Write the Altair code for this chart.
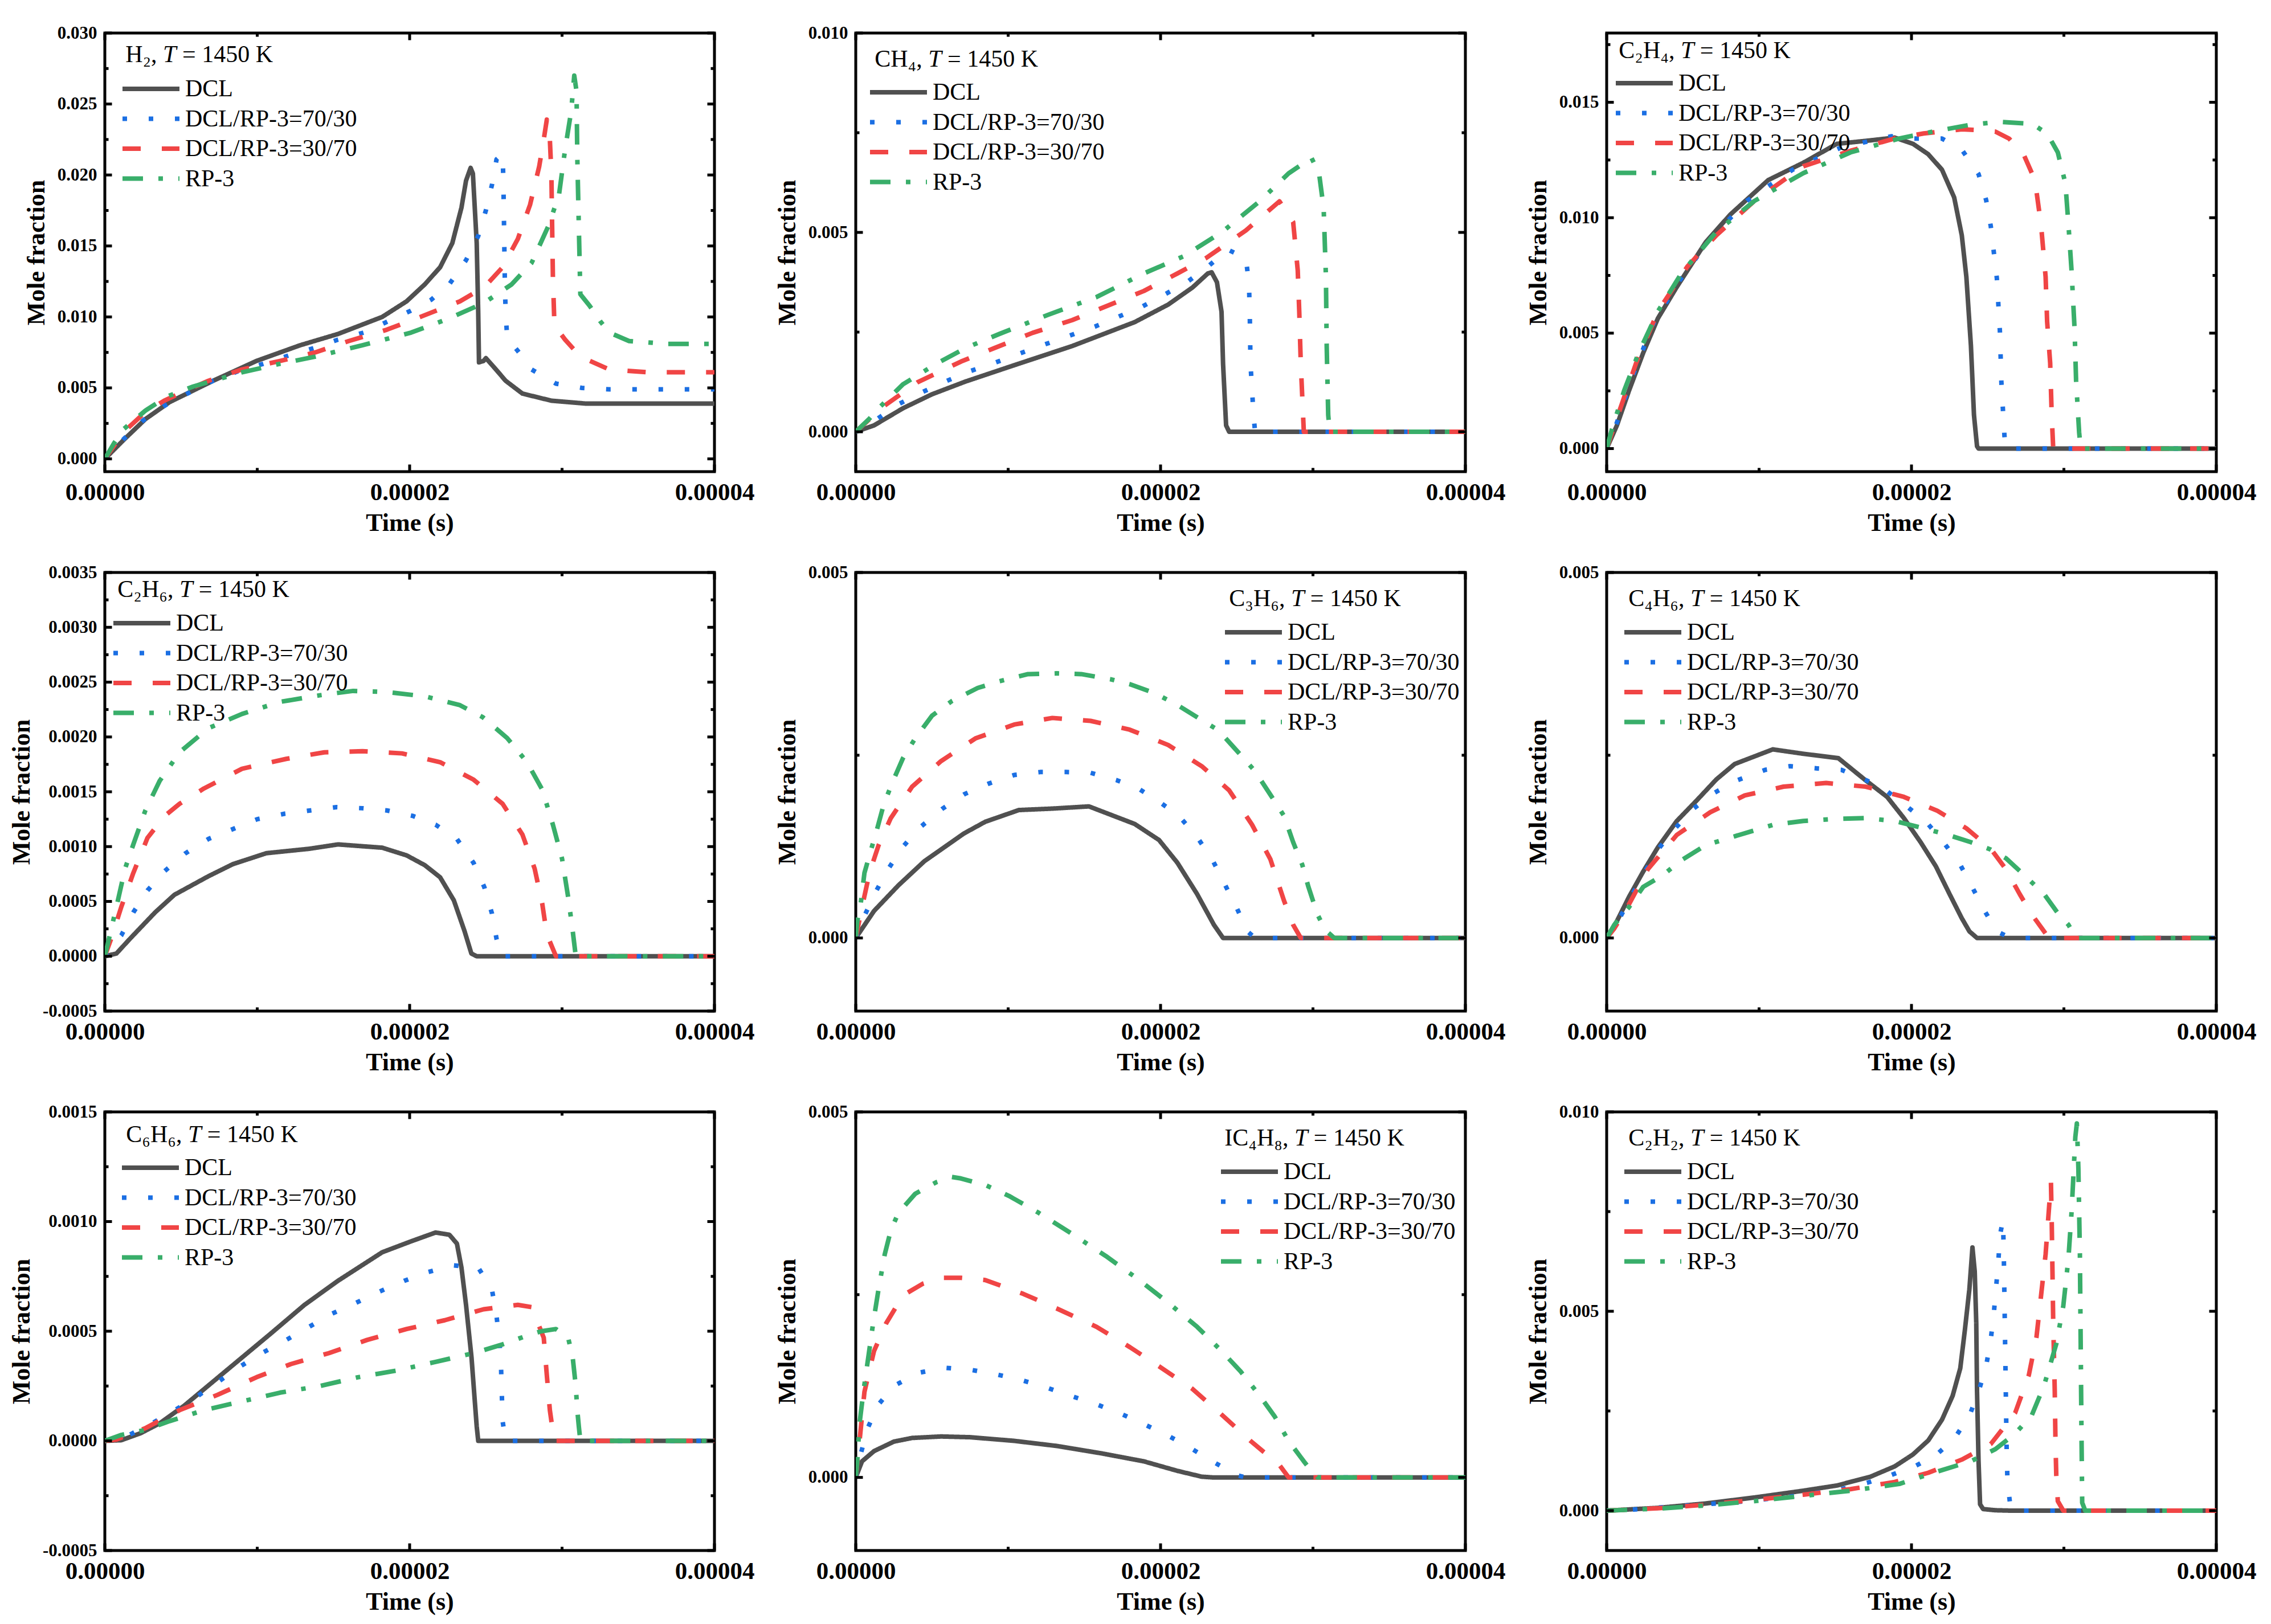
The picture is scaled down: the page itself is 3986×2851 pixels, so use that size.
import altair as alt
import pandas as pd

SERIES = ["DCL", "DCL/RP-3=70/30", "DCL/RP-3=30/70", "RP-3"]
COLORS = ["#505050", "#1b6fe3", "#f04545", "#39ae6a"]
DASHES = [[1, 0], [8, 38], [32, 37], [36, 27, 8, 27]]

X_MAJOR = [0, 0.00002, 0.00004]
X_MINOR = [0.00001, 0.00003]

# time in microseconds, mole fraction
h2_dcl = [(0,0),(1.24,0.00134),(2.66,0.0028),(4.25,0.0040),(7.1,0.0055),(9.95,0.0069),(12.8,0.0080),(15.3,0.0088),(18.2,0.0100),(19.8,0.0111),(21.0,0.0123),(22.0,0.0135),(22.8,0.0152),(23.4,0.0177),(23.7,0.0196),(24.0,0.0205),(24.15,0.0201),(24.4,0.0152),(24.5,0.0103),(24.55,0.0068),(24.85,0.0069),(25.0,0.0071),(25.5,0.0065),(26.3,0.0055),(27.4,0.0046),(29.3,0.0041),(31.5,0.0039),(40,0.0039)]
h2_b = [(0,0),(1.24,0.0014),(2.5,0.0027),(4.0,0.0038),(5.6,0.0047),(7.1,0.0055),(8.8,0.0062),(10.4,0.0067),(12.1,0.0073),(13.7,0.0078),(15.3,0.0084),(17.0,0.0089),(18.4,0.0096),(20.0,0.0104),(21.4,0.0112),(22.6,0.0123),(23.7,0.0140),(24.5,0.0157),(25.0,0.0175),(25.4,0.0193),(25.7,0.0211),(26.1,0.0215),(26.15,0.0196),(26.2,0.0159),(26.25,0.0122),(26.3,0.0103),(26.4,0.0085),(27.1,0.0076),(28.0,0.0063),(29.6,0.0053),(31.3,0.0050),(33.1,0.0049),(40,0.0049)]
h2_r = [(0,0),(1.24,0.0019),(2.66,0.0033),(3.9,0.0041),(5.5,0.0049),(6.8,0.0055),(9.0,0.0063),(11.5,0.0069),(13.8,0.0075),(16.0,0.0083),(18.5,0.0091),(20.7,0.0100),(23.3,0.0111),(24.9,0.0121),(26.1,0.0135),(27.1,0.0155),(27.9,0.0179),(28.5,0.0206),(28.8,0.0225),(29.0,0.0239),(29.2,0.0225),(29.3,0.0201),(29.35,0.0164),(29.4,0.0128),(29.5,0.0094),(30.2,0.0084),(31.2,0.0072),(33.1,0.0063),(35.6,0.0061),(40,0.0061)]
h2_g = [(0,0),(0.6,0.0011),(1.24,0.0021),(2.66,0.0034),(4.1,0.0044),(5.8,0.0051),(7.1,0.0055),(9.0,0.0061),(11.5,0.0067),(13.8,0.0072),(16.9,0.0080),(20.1,0.0089),(22.6,0.0099),(24.9,0.0110),(26.7,0.0123),(28.0,0.0138),(29.1,0.0164),(29.8,0.0186),(30.2,0.0218),(30.6,0.0245),(30.8,0.0270),(30.95,0.0259),(31.0,0.0213),(31.1,0.0164),(31.2,0.0116),(31.8,0.0108),(32.5,0.0097),(33.1,0.0089),(34.4,0.0083),(36.9,0.0081),(40,0.0081)]

ch4_dcl = [(0,0),(1.2,0.00016),(3.1,0.00059),(5.0,0.00094),(7.2,0.00126),(10.4,0.00167),(14.2,0.00215),(18.3,0.00275),(20.5,0.00319),(22.1,0.00362),(23.1,0.00397),(23.35,0.0040),(23.7,0.00375),(24.0,0.00301),(24.1,0.00171),(24.3,0.00016),(24.5,0),(40,0)]
ch4_b = [(0,0),(1.36,0.00031),(2.8,0.00069),(4.4,0.0010),(6.0,0.00128),(7.5,0.00152),(9.2,0.00174),(10.8,0.00197),(12.4,0.00219),(14.1,0.00242),(15.7,0.00264),(17.2,0.00288),(18.8,0.00314),(20.3,0.00345),(21.8,0.00377),(23.1,0.00414),(24.4,0.00457),(25.6,0.00435),(25.8,0.00371),(25.85,0.00304),(25.9,0.00171),(26.1,0.00042),(26.2,0),(40,0)]
ch4_r = [(0,0),(1.8,0.00063),(4.05,0.00124),(6.9,0.00176),(9.1,0.0021),(11.6,0.00248),(14.2,0.0028),(16.7,0.00319),(18.9,0.00353),(21.1,0.00397),(23.0,0.00436),(25.6,0.00505),(27.8,0.00578),(28.7,0.00526),(29.0,0.00405),(29.1,0.00301),(29.2,0.00171),(29.35,0.00042),(29.4,0),(40,0)]
ch4_g = [(0,0),(0.9,0.00033),(1.5,0.00059),(3.1,0.00119),(5.3,0.00171),(7.2,0.0021),(9.4,0.00245),(12.6,0.00293),(15.8,0.00338),(18.9,0.00397),(21.5,0.0044),(24.0,0.0050),(26.5,0.00578),(28.4,0.00648),(29.9,0.00687),(30.4,0.00648),(30.7,0.00561),(30.85,0.00388),(30.9,0.00215),(31.0,0.00042),(31.1,0),(40,0)]

c2h4_dcl = [(0,0),(0.67,0.0010),(1.46,0.0025),(2.4,0.00415),(3.36,0.00564),(4.6,0.0070),(6.5,0.00894),(8.1,0.01013),(10.6,0.01163),(12.9,0.01238),(15.1,0.0132),(17.3,0.01335),(18.9,0.01347),(20.1,0.0132),(21.1,0.01275),(22.0,0.01208),(22.8,0.01088),(23.3,0.00924),(23.6,0.00744),(23.9,0.00445),(24.1,0.00145),(24.3,0.0001),(24.4,0),(40,0)]
c2h4_b = [(0,0),(0.67,0.00112),(1.77,0.00325),(3.0,0.00534),(4.8,0.00729),(6.8,0.00909),(9.2,0.01073),(12.2,0.01208),(15.4,0.01305),(18.7,0.01353),(20.1,0.01343),(22.0,0.01343),(23.3,0.01295),(24.4,0.01189),(24.9,0.01076),(25.2,0.00964),(25.4,0.00852),(25.6,0.00738),(25.7,0.00624),(25.8,0.00509),(25.9,0.00283),(26.0,0.00169),(26.1,0.00055),(26.2,0),(40,0)]
c2h4_r = [(0,0),(0.82,0.0016),(1.93,0.0037),(3.36,0.00594),(5.3,0.00789),(7.2,0.00924),(9.7,0.01073),(12.9,0.01223),(16.0,0.0129),(18.9,0.01343),(20.8,0.01365),(23.3,0.01383),(24.3,0.0138),(25.5,0.01373),(26.4,0.01343),(27.4,0.01268),(28.1,0.01163),(28.5,0.00969),(28.8,0.00744),(28.9,0.0055),(29.1,0.0037),(29.2,0.00145),(29.3,0),(40,0)]
c2h4_g = [(0,0),(0.35,0.00085),(1.14,0.0025),(2.1,0.00415),(3.36,0.00594),(4.9,0.00759),(7.2,0.00939),(9.7,0.01073),(12.9,0.01193),(16.0,0.01283),(19.2,0.01343),(21.4,0.01373),(23.9,0.01403),(25.8,0.01415),(27.9,0.01407),(28.9,0.01365),(29.6,0.01283),(30.1,0.01148),(30.3,0.00969),(30.5,0.00774),(30.7,0.00519),(30.8,0.00295),(31.0,0.0007),(31.1,0),(40,0)]

c2h6_dcl = [(0,0),(0.76,0.000025),(1.7,0.000167),(3.3,0.0004),(4.56,0.00056),(6.8,0.00073),(8.4,0.00084),(10.6,0.00094),(13.4,0.00098),(15.3,0.00102),(18.2,0.00099),(19.8,0.00092),(21.0,0.00083),(22.0,0.00072),(22.9,0.00051),(23.6,0.00023),(24.05,0.000025),(24.4,0),(40,0)]
c2h6_b = [(0,0),(0.5,0.0001),(1.08,0.00019),(1.87,0.0004),(2.8,0.0006),(3.87,0.00077),(5.3,0.00094),(6.8,0.00107),(8.4,0.00116),(10.0,0.00125),(11.8,0.0013),(13.5,0.00133),(15.2,0.00136),(16.9,0.00135),(18.5,0.00133),(20.2,0.00128),(21.7,0.0012),(23.1,0.00107),(24.2,0.00085),(24.9,0.00063),(25.4,0.00039),(25.7,0.00016),(26.0,0),(40,0)]
c2h6_r = [(0,0),(0.44,0.00017),(1.08,0.00045),(1.87,0.00076),(2.8,0.00108),(3.93,0.00128),(4.9,0.00139),(6.5,0.00153),(9.0,0.00171),(11.9,0.0018),(14.4,0.00186),(16.9,0.00187),(19.5,0.00185),(22.0,0.00177),(24.2,0.00161),(26.1,0.00139),(27.4,0.00111),(28.2,0.0008),(28.7,0.00048),(29.0,0.0002),(29.6,0),(40,0)]
c2h6_g = [(0,0),(0.29,0.00017),(0.76,0.00045),(1.33,0.0008),(1.87,0.00102),(2.66,0.00133),(3.6,0.0016),(4.9,0.00186),(6.8,0.00208),(9.0,0.00221),(11.5,0.00232),(14.1,0.00238),(16.3,0.00242),(18.5,0.00241),(21.0,0.00237),(23.3,0.00229),(24.8,0.00218),(26.4,0.00199),(27.7,0.00177),(28.7,0.00152),(29.4,0.0012),(30.0,0.00089),(30.4,0.00054),(30.7,0.00023),(30.9,0),(40,0)]

c3h6_dcl = [(0,0),(1.2,0.00037),(2.8,0.00072),(4.5,0.00105),(7.1,0.00143),(8.5,0.00159),(10.7,0.00175),(12.9,0.00177),(15.3,0.0018),(18.3,0.00156),(19.9,0.00134),(21.1,0.00103),(22.4,0.0006),(23.5,0.00018),(24.1,0),(40,0)]
c3h6_b = [(0,0),(0.63,0.00033),(1.36,0.00065),(2.15,0.00095),(3.1,0.00125),(4.2,0.00151),(5.7,0.00177),(7.15,0.00197),(8.7,0.00211),(10.4,0.00223),(12.1,0.00227),(13.8,0.00227),(15.4,0.00226),(17.1,0.00216),(18.5,0.00205),(20.0,0.00185),(21.2,0.00167),(22.4,0.00138),(23.4,0.00107),(24.2,0.00074),(25.0,0.00041),(25.7,0.00009),(26.2,0),(40,0)]
c3h6_r = [(0,0),(0.41,0.00042),(0.9,0.00089),(1.5,0.00127),(2.3,0.00164),(3.7,0.00207),(5.6,0.00242),(7.85,0.00273),(10.4,0.00292),(12.9,0.00301),(15.4,0.00297),(17.97,0.00285),(20.5,0.00264),(22.7,0.00235),(24.5,0.00202),(26.0,0.00155),(27.2,0.00108),(28.1,0.00051),(28.7,0.00018),(29.2,0),(40,0)]
c3h6_g = [(0,0),(0.1,0.00023),(0.32,0.00046),(0.57,0.00089),(0.95,0.00117),(1.36,0.00146),(1.84,0.00183),(2.47,0.00216),(3.1,0.00246),(3.9,0.00273),(5.0,0.00304),(6.3,0.00324),(8.0,0.00342),(9.4,0.00351),(11.3,0.00361),(13.2,0.00362),(14.8,0.00361),(16.7,0.00354),(18.0,0.00347),(19.6,0.00335),(21.0,0.0032),(22.4,0.00302),(23.8,0.00284),(25.1,0.00254),(26.2,0.00228),(27.3,0.00193),(28.1,0.00167),(28.7,0.00131),(29.3,0.0010),(29.7,0.0007),(30.3,0.00032),(30.8,0.00011),(31.4,0),(40,0)]

c4h6_dcl = [(0,0),(0.67,0.00023),(1.46,0.00056),(2.4,0.00091),(3.36,0.00124),(4.6,0.0016),(5.9,0.00188),(7.2,0.00217),(8.4,0.00238),(10.9,0.00258),(12.9,0.00252),(15.2,0.00246),(16.97,0.00216),(18.4,0.00193),(19.5,0.00164),(20.6,0.00131),(21.6,0.00098),(22.5,0.0006),(23.3,0.00027),(23.8,0.00009),(24.3,0),(40,0)]
c4h6_b = [(0,0),(0.95,0.00031),(1.77,0.00063),(2.6,0.00094),(3.4,0.00122),(4.5,0.0015),(5.7,0.00177),(7.1,0.00199),(8.6,0.00216),(10.4,0.0023),(12.0,0.00235),(13.8,0.00232),(15.4,0.0023),(17.0,0.00216),(18.2,0.00204),(19.7,0.0018),(21.0,0.00158),(22.1,0.00131),(23.2,0.0010),(24.0,0.00069),(24.8,0.00037),(25.6,0.00009),(26.5,0),(40,0)]
c4h6_r = [(0,0),(0.5,0.00013),(1.46,0.00046),(2.7,0.00094),(4.6,0.00141),(6.8,0.00172),(9.06,0.00195),(11.6,0.00207),(14.4,0.00212),(17.0,0.00207),(19.5,0.00193),(21.7,0.00174),(23.6,0.0015),(25.2,0.00122),(26.2,0.00094),(27.1,0.0006),(27.9,0.00032),(28.7,0.00009),(29.0,0),(40,0)]
c4h6_g = [(0,0),(0.5,0.00018),(1.46,0.00042),(2.4,0.0007),(3.7,0.00086),(4.8,0.00105),(6.5,0.00127),(8.7,0.00141),(10.96,0.00155),(12.9,0.0016),(15.1,0.00163),(16.97,0.00164),(18.9,0.0016),(20.8,0.0015),(22.4,0.00141),(23.9,0.00131),(25.2,0.00121),(26.2,0.00109),(27.4,0.00086),(28.7,0.0006),(29.6,0.00034),(30.3,0.00018),(30.8,0),(40,0)]

c6h6_dcl = [(0,0),(1.08,0.000003),(2.35,0.000035),(3.6,0.00008),(5.2,0.00016),(7.1,0.00027),(9.0,0.00038),(10.9,0.00049),(13.1,0.00062),(15.3,0.00073),(18.2,0.00086),(20.1,0.00091),(21.7,0.00095),(22.6,0.00094),(23.1,0.0009),(23.4,0.00079),(23.7,0.00062),(24.06,0.00038),(24.4,0.000066),(24.5,0),(40,0)]
c6h6_b = [(0,0),(1.6,0.000027),(3.1,0.00008),(4.6,0.00014),(6.0,0.0002),(7.45,0.00027),(8.9,0.00034),(10.3,0.0004),(11.9,0.00046),(13.4,0.00052),(14.9,0.00058),(16.5,0.00063),(18.0,0.00068),(19.65,0.00073),(21.2,0.00077),(22.9,0.0008),(24.5,0.00079),(25.4,0.00069),(25.7,0.00057),(25.9,0.00045),(26.0,0.00033),(26.05,0.00021),(26.1,0.00009),(26.3,0),(40,0)]
c6h6_r = [(0,0),(0.76,0.000006),(2.66,0.000058),(4.9,0.00014),(7.4,0.00021),(9.95,0.00029),(12.2,0.00035),(14.7,0.0004),(17.2,0.00046),(19.8,0.00051),(22.3,0.00055),(24.85,0.0006),(27.1,0.00062),(28.0,0.00061),(28.8,0.00047),(29.0,0.0003),(29.2,0.00014),(29.35,0.000066),(29.5,0),(40,0)]
c6h6_g = [(0,0),(1.08,0.000027),(2.66,0.00005),(4.25,0.00009),(6.5,0.00014),(9.0,0.00018),(11.5,0.00022),(14.1,0.00025),(16.6,0.00029),(19.1,0.00032),(21.7,0.00036),(24.2,0.0004),(26.1,0.00044),(27.7,0.00048),(28.65,0.0005),(29.6,0.00051),(30.4,0.00047),(30.7,0.00038),(30.9,0.00025),(31.0,0.00014),(31.1,0.000066),(31.2,0),(40,0)]

ic4h8_dcl = [(0,0),(0.41,0.00022),(1.2,0.00036),(2.5,0.00049),(3.7,0.00054),(5.6,0.00056),(7.5,0.00055),(10.4,0.0005),(13.2,0.00043),(16.1,0.00033),(18.9,0.00022),(21.1,0.00009),(22.7,0.00001),(23.4,0),(40,0)]
ic4h8_b = [(0,0),(0.35,0.00034),(0.82,0.00069),(1.46,0.00099),(2.5,0.00125),(4.1,0.00143),(5.85,0.0015),(7.6,0.00147),(9.2,0.00141),(10.9,0.00133),(12.5,0.00123),(14.2,0.00111),(15.8,0.0010),(17.4,0.00087),(18.9,0.00073),(20.5,0.00057),(21.9,0.00041),(23.4,0.00022),(25.0,0.00003),(25.6,0),(40,0)]
ic4h8_r = [(0,0),(0.25,0.0005),(0.57,0.00117),(1.2,0.00173),(2.0,0.00211),(3.1,0.00249),(4.4,0.00265),(5.6,0.00273),(6.9,0.00273),(8.5,0.0027),(11.0,0.00251),(13.2,0.00231),(15.8,0.00206),(18.0,0.00178),(19.9,0.00152),(22.1,0.00121),(24.0,0.00086),(25.9,0.0005),(27.8,0.00017),(28.4,0),(40,0)]
ic4h8_g = [(0,0),(0.1,0.00022),(0.25,0.00074),(0.5,0.00117),(0.82,0.00164),(1.14,0.00211),(1.5,0.00258),(1.9,0.00305),(2.3,0.00338),(2.8,0.00362),(3.9,0.00388),(5.3,0.00404),(6.3,0.00411),(6.9,0.00409),(8.5,0.0040),(10.06,0.00385),(12.0,0.00362),(14.2,0.00333),(16.4,0.00303),(18.6,0.0027),(20.5,0.00239),(22.4,0.00206),(24.0,0.00173),(25.25,0.00145),(26.5,0.00112),(27.5,0.00083),(28.4,0.0005),(29.4,0.00022),(30.0,0.00006),(30.3,0),(40,0)]

c2h2_dcl = [(0,0),(3.36,0.00007),(6.5,0.00018),(9.7,0.00033),(12.9,0.0005),(15.1,0.00063),(17.3,0.00085),(18.9,0.00111),(20.1,0.00141),(21.1,0.00176),(22.0,0.00228),(22.7,0.00288),(23.2,0.00357),(23.5,0.00452),(23.8,0.00556),(24.0,0.0066),(24.15,0.0060),(24.25,0.0047),(24.3,0.0030),(24.4,0.00124),(24.5,0.00016),(24.7,0.00004),(25.5,0.00001),(26.5,0),(40,0)]
c2h2_b = [(0,0),(1.77,0.00003),(5.3,0.00013),(8.7,0.00022),(12.0,0.00035),(15.4,0.00054),(17.1,0.0007),(18.65,0.00089),(20.3,0.00113),(21.6,0.00139),(22.8,0.0018),(23.8,0.00238),(24.4,0.00298),(24.9,0.00363),(25.2,0.00429),(25.4,0.00494),(25.55,0.00559),(25.7,0.00625),(25.8,0.0069),(26.0,0.00728),(26.05,0.0066),(26.1,0.0053),(26.15,0.0040),(26.2,0.00266),(26.25,0.00137),(26.3,0.00072),(26.5,0.00007),(26.6,0),(40,0)]
c2h2_r = [(0,0),(3.36,0.00006),(6.5,0.00015),(9.7,0.00027),(12.9,0.0004),(16.0,0.00054),(18.9,0.00072),(21.1,0.00095),(23.3,0.00128),(25.2,0.00167),(26.8,0.00245),(27.7,0.0034),(28.2,0.00435),(28.5,0.00539),(28.8,0.00643),(29.0,0.00747),(29.15,0.00824),(29.2,0.00729),(29.25,0.0060),(29.3,0.0047),(29.4,0.0030),(29.45,0.00167),(29.5,0.00089),(29.6,0.00024),(29.96,0),(40,0)]
c2h2_g = [(0,0),(3.36,0.00005),(6.5,0.00013),(9.7,0.00024),(12.9,0.00037),(16.0,0.0005),(19.2,0.00067),(21.7,0.00098),(23.9,0.00124),(25.5,0.00154),(26.8,0.00193),(27.9,0.0024),(28.7,0.00314),(29.5,0.00418),(29.96,0.00513),(30.3,0.00634),(30.5,0.00747),(30.65,0.00859),(30.75,0.00937),(30.85,0.00971),(30.95,0.00859),(31.05,0.00643),(31.1,0.00426),(31.15,0.0021),(31.2,0.0002),(31.4,0),(40,0)]

# axis ticks per panel
Y_H2_MAJOR = [0, 0.005, 0.010, 0.015, 0.020, 0.025, 0.030]
Y_H2_MINOR = [0.0025, 0.0075, 0.0125, 0.0175, 0.0225, 0.0275]
Y_10_MAJOR = [0, 0.005, 0.010]
Y_10_MINOR = [0.0025, 0.0075]
Y_C2H4_MAJOR = [0, 0.005, 0.010, 0.015]
Y_C2H4_MINOR = [0.0025, 0.0075, 0.0125, 0.0175]
Y_C2H6_MAJOR = [-0.0005, 0, 0.0005, 0.0010, 0.0015, 0.0020, 0.0025, 0.0030, 0.0035]
Y_C2H6_MINOR = [-0.00025, 0.00025, 0.00075, 0.00125, 0.00175, 0.00225, 0.00275, 0.00325]
Y_5_MAJOR = [0, 0.005]
Y_5_MINOR = [0.0025]
Y_C6H6_MAJOR = [-0.0005, 0, 0.0005, 0.0010, 0.0015]
Y_C6H6_MINOR = [-0.00025, 0.00025, 0.00075, 0.00125]

PANELS = [
    dict(name="H₂", series=[h2_dcl, h2_b, h2_r, h2_g], dom=[-0.0009, 0.030], major=Y_H2_MAJOR, minor=Y_H2_MINOR, fmt=".3f", title=(34, 38), leg=(31, 98)),
    dict(name="CH₄", series=[ch4_dcl, ch4_b, ch4_r, ch4_g], dom=[-0.001, 0.010], major=Y_10_MAJOR, minor=Y_10_MINOR, fmt=".3f", title=(31, 46), leg=(25, 104)),
    dict(name="C₂H₄", series=[c2h4_dcl, c2h4_b, c2h4_r, c2h4_g], dom=[-0.001, 0.018], major=Y_C2H4_MAJOR, minor=Y_C2H4_MINOR, fmt=".3f", title=(17, 31), leg=(16, 88)),
    dict(name="C₂H₆", series=[c2h6_dcl, c2h6_b, c2h6_r, c2h6_g], dom=[-0.0005, 0.0035], major=Y_C2H6_MAJOR, minor=Y_C2H6_MINOR, fmt=".4f", title=(18, 30), leg=(15, 89)),
    dict(name="C₃H₆", series=[c3h6_dcl, c3h6_b, c3h6_r, c3h6_g], dom=[-0.001, 0.005], major=Y_5_MAJOR, minor=Y_5_MINOR, fmt=".3f", title=(651, 46), leg=(648, 105)),
    dict(name="C₄H₆", series=[c4h6_dcl, c4h6_b, c4h6_r, c4h6_g], dom=[-0.001, 0.005], major=Y_5_MAJOR, minor=Y_5_MINOR, fmt=".3f", title=(34, 46), leg=(31, 105)),
    dict(name="C₆H₆", series=[c6h6_dcl, c6h6_b, c6h6_r, c6h6_g], dom=[-0.0005, 0.0015], major=Y_C6H6_MAJOR, minor=Y_C6H6_MINOR, fmt=".4f", title=(33, 40), leg=(30, 98)),
    dict(name="IC₄H₈", series=[ic4h8_dcl, ic4h8_b, ic4h8_r, ic4h8_g], dom=[-0.001, 0.005], major=Y_5_MAJOR, minor=Y_5_MINOR, fmt=".3f", title=(643, 46), leg=(641, 105)),
    dict(name="C₂H₂", series=[c2h2_dcl, c2h2_b, c2h2_r, c2h2_g], dom=[-0.001, 0.010], major=Y_10_MAJOR, minor=Y_10_MINOR, fmt=".3f", title=(34, 46), leg=(31, 105)),
]

W, H = 1070, 770
FONT = "Liberation Serif"
FS = 42
MAJ, MIN = 12.5, 6.5


def em_width(s):
    w = {"H": 0.722, "C": 0.667, "I": 0.333, ",": 0.25, " ": 0.25}
    return sum(w.get(c, 0.40) for c in s)


def tick_layer(vals, axis, side, length, xs, ys, xax, yax):
    d = pd.DataFrame({"v": vals})
    base = alt.Chart(d).mark_rule(color="black", strokeWidth=5)
    if axis == "y":
        x0 = 0 if side == "left" else W
        x1 = length if side == "left" else W - length
        return base.encode(y=alt.Y("v:Q", scale=ys, axis=yax), x=alt.value(x0), x2=alt.value(x1))
    y0 = H if side == "bottom" else 0
    y1 = H - length if side == "bottom" else length
    return base.encode(x=alt.X("v:Q", scale=xs, axis=xax), y=alt.value(y0), y2=alt.value(y1))


def panel(p):
    rows = []
    for name, pts in zip(SERIES, p["series"]):
        for i, (t, v) in enumerate(pts):
            rows.append({"series": name, "i": i, "t": t * 1e-6, "y": v})
    df = pd.DataFrame(rows)
    xs = alt.Scale(domain=[0, 0.00004], nice=False, zero=False)
    ys = alt.Scale(domain=p["dom"], nice=False, zero=False)
    xax = alt.Axis(
        values=X_MAJOR, format=".5f", title="Time (s)", ticks=False, domain=False, grid=False,
        labelFont=FONT, labelFontWeight="bold", labelFontSize=43, labelColor="black",
        labelPadding=15, labelFlush=False, labelOverlap=False,
        titleFont=FONT, titleFontWeight="bold", titleFontSize=44, titleColor="black", titlePadding=10)
    yax = alt.Axis(
        values=p["major"], format=p["fmt"], labelExpr="replace(datum.label, '\u2212', '-')",
        title="Mole fraction", ticks=False, domain=False, grid=False,
        labelFont=FONT, labelFontWeight="bold", labelFontSize=31, labelColor="black",
        labelPadding=14, labelFlush=False, labelOverlap=False,
        titleFont=FONT, titleFontWeight="bold", titleFontSize=44, titleColor="black", titlePadding=14)
    lx, ly = p["leg"]
    leg = alt.Legend(orient="none", legendX=lx - 4, legendY=ly - 21, title=None,
                     labelFont=FONT, labelFontSize=FS, labelColor="black",
                     symbolType="stroke", symbolSize=10000, symbolStrokeWidth=8,
                     labelOffset=6, labelLimit=1000, rowPadding=10.5, padding=0,
                     clipHeight=42)
    lines = alt.Chart(df).mark_line(strokeWidth=8, clip=True, strokeCap="butt", strokeJoin="round").encode(
        x=alt.X("t:Q", scale=xs, axis=xax),
        y=alt.Y("y:Q", scale=ys, axis=yax),
        color=alt.Color("series:N", scale=alt.Scale(domain=SERIES, range=COLORS), legend=leg),
        strokeDash=alt.StrokeDash("series:N", scale=alt.Scale(domain=SERIES, range=DASHES), legend=leg),
        order=alt.Order("i:Q"),
    )
    layers = [lines]
    for axis, vals_maj, vals_min in (("y", p["major"], p["minor"]), ("x", X_MAJOR, X_MINOR)):
        sides = ("left", "right") if axis == "y" else ("bottom", "top")
        for s in sides:
            layers.append(tick_layer(vals_maj, axis, s, MAJ, xs, ys, xax, yax))
            layers.append(tick_layer(vals_min, axis, s, MIN, xs, ys, xax, yax))
    one = pd.DataFrame({"k": [0]})
    tx, ty = p["title"]
    comma_end = tx + em_width(p["name"] + ",") * FS
    t_start = comma_end + 0.25 * FS
    rest_start = t_start + 0.556 * FS + 0.25 * FS
    layers.append(alt.Chart(one).mark_text(align="right", baseline="middle", font=FONT, fontSize=FS, color="black")
                  .encode(x=alt.value(comma_end), y=alt.value(ty), text=alt.value(p["name"] + ",")))
    layers.append(alt.Chart(one).mark_text(align="left", baseline="middle", font=FONT, fontSize=FS, fontStyle="italic", color="black")
                  .encode(x=alt.value(t_start), y=alt.value(ty), text=alt.value("T")))
    layers.append(alt.Chart(one).mark_text(align="left", baseline="middle", font=FONT, fontSize=FS, color="black")
                  .encode(x=alt.value(rest_start), y=alt.value(ty), text=alt.value("= 1450 K")))
    return alt.layer(*layers).properties(width=W, height=H)


charts = [panel(p) for p in PANELS]
chart = alt.concat(*charts, columns=3, spacing={"row": 177, "column": 248}, bounds="flush").resolve_legend(
    color="independent", strokeDash="independent"
).properties(
    padding={"left": 5, "top": 31, "right": 5, "bottom": 0}, background="white"
).configure(font=FONT).configure_view(stroke="black", strokeWidth=5)

chart.save("out.html", embed_options={"renderer": "svg", "actions": False})
